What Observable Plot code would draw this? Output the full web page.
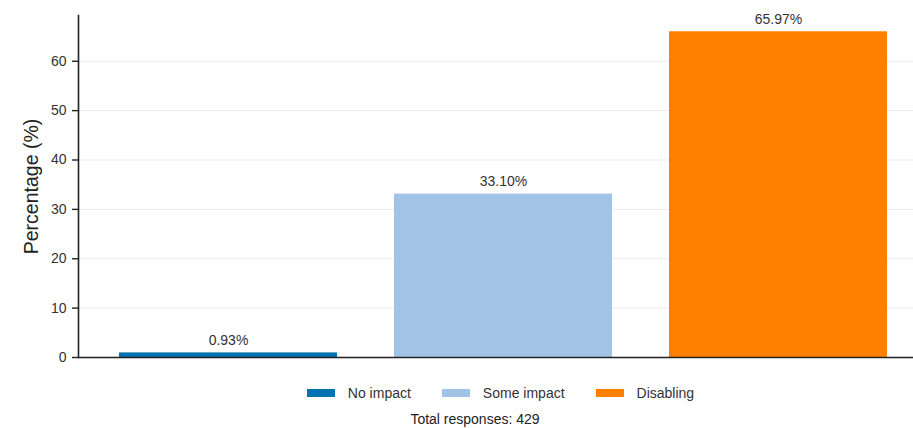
<!DOCTYPE html>
<html>
<head>
<meta charset="utf-8">
<script src="https://cdn.jsdelivr.net/npm/d3@7"></script>
<script src="https://cdn.jsdelivr.net/npm/@observablehq/plot@0.6"></script>
<style>
  html, body { margin: 0; padding: 0; background: #fff; overflow: hidden; width: 913px; height: 428px; }
  body { font-family: "Liberation Sans", Arial, sans-serif; color: #333; }
  #chart svg { display: block; font-family: "Liberation Sans", Arial, sans-serif; }
  g[aria-label="y-axis label"] text { font-size: 19.5px; fill: #222; }
  #legend { margin-left: 78px; width: 845px; height: 20px; margin-top: 17px; display: flex; justify-content: center; align-items: center; }
  #legend .lg-swatches-wrap, #legend .lg-swatches { display: flex; justify-content: center; align-items: center; min-height: 0; margin: 0; font-family: "Liberation Sans", Arial, sans-serif; font-size: 14px; color: #333; }
  #legend .lg-swatch { margin-right: 31px; display: inline-flex; align-items: center; }
  #legend .lg-swatch:last-child { margin-right: 0; }
  #legend .lg-swatch > svg { margin-right: 13px; }
  #caption { width: 950px; text-align: center; font-size: 14px; line-height: 16px; margin-top: 8px; color: #222; }
</style>
</head>
<body>
<div id="chart"></div>
<div id="legend"></div>
<div id="caption"></div>
<script>
const categories = ["No impact", "Some impact", "Disabling"];
const percentages = [0.93, 33.10, 65.97];
const colors = ["#0072B2", "#A1C4E6", "#FF7F00"];
const yTicks = [0, 10, 20, 30, 40, 50, 60];
const gridTicks = [10, 20, 30, 40, 50, 60];
const totalResponses = 429;

const data = categories.map((c, i) => ({category: c, pct: percentages[i]}));
const yMax = d3.max(percentages) * 1.05;

const plot = Plot.plot({
  width: 913,
  height: 366,
  marginLeft: 78,
  marginRight: 0,
  marginTop: 15,
  marginBottom: 9,
  style: {fontSize: "14px", color: "#333", background: "#fff"},
  x: {domain: categories, paddingInner: 0.209, paddingOuter: 0.12, align: 0.61, axis: null},
  y: {domain: [0, yMax]},
  color: {domain: categories, range: colors},
  marks: [
    Plot.ruleY(gridTicks, {stroke: "#ebebeb", strokeWidth: 1}),
    Plot.barY(data, {x: "category", y: "pct", fill: "category"}),
    Plot.text(data, {x: "category", y: "pct", text: d => d.pct.toFixed(2) + "%", lineAnchor: "bottom", dy: -8, fill: "#333", fontSize: 14}),
    Plot.axisY({ticks: yTicks, tickSize: 6, tickPadding: 6, tickFormat: d => d, stroke: "#222", strokeWidth: 1.4, fill: "#333",
      label: "Percentage (%)", labelAnchor: "center", labelArrow: "none", labelOffset: 54}),
    Plot.frame({anchor: "left", stroke: "#222", strokeWidth: 1.6}),
    Plot.ruleY([0], {stroke: "#222", strokeWidth: 1.6})
  ]
});
document.getElementById("chart").appendChild(plot);

const legend = Plot.legend({
  color: {domain: categories, range: colors},
  legend: "swatches",
  swatchWidth: 28,
  swatchHeight: 8,
  className: "lg"
});
document.getElementById("legend").appendChild(legend);
document.getElementById("caption").textContent = "Total responses: " + totalResponses;
</script>
</body>
</html>
